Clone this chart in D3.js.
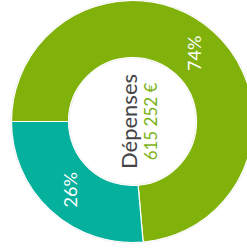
<!DOCTYPE html>
<html>
<head>
<meta charset="utf-8">
<script src="https://cdn.jsdelivr.net/npm/d3@7"></script>
<style>
	html, body { margin: 0; padding: 0; background: #fff; }
	svg { display: block; font-family: Lato, "Open Sans", sans-serif; }
</style>
</head>
<body>
<script>
// Parts of the expenses (share in %)
const categories = ["Part A", "Part B"];
const shares     = [73.6, 26.4];
const labels     = ["74%", "26%"];
const colors     = ["#80b20b", "#05b09c"];
const title      = "Dépenses";
const total      = "615 252 €";

const width  = 247;
const height = 251;
const cx = 132.5, cy = 121.5;
const outerR = 121, innerR = 64;

const svg = d3.select("body").append("svg")
	.attr("width", width)
	.attr("height", height);

const g = svg.append("g")
	.attr("transform", "translate(" + cx + "," + cy + ")");

// chart is turned a quarter left: first slice starts at 9 o'clock
const pie = d3.pie()
	.sort(null)
	.value(d => d.value)
	.startAngle(-Math.PI / 2)
	.endAngle(Math.PI * 1.5);

const arc = d3.arc()
	.innerRadius(innerR)
	.outerRadius(outerR);

const labelArc = d3.arc()
	.innerRadius((innerR + outerR) / 2)
	.outerRadius((innerR + outerR) / 2);

const data = pie(categories.map((c, i) => ({ name: c, value: shares[i], label: labels[i], color: colors[i] })));

// faint outline round the ring
g.append("circle")
	.attr("r", outerR + 0.5)
	.attr("fill", "none")
	.attr("stroke", "#e4e4e4")
	.attr("stroke-width", 1);

g.append("circle")
	.attr("r", innerR - 0.5)
	.attr("fill", "none")
	.attr("stroke", "#ececec")
	.attr("stroke-width", 1);

g.selectAll("path.slice")
	.data(data)
	.join("path")
	.attr("class", "slice")
	.attr("d", arc)
	.attr("fill", d => d.data.color)
	.attr("stroke", "#fff")
	.attr("stroke-width", 1.2);

g.selectAll("text.pct")
	.data(data)
	.join("text")
	.attr("class", "pct")
	.attr("transform", d => {
		const [x, y] = labelArc.centroid(d);
		return "translate(" + x + "," + y + ") rotate(-90)";
	})
	.attr("text-anchor", "middle")
	.attr("dy", "0.36em")
	.attr("fill", "#fff")
	.attr("font-size", 18)
	.text(d => d.data.label);

const center = g.append("g").attr("transform", "rotate(-90)");

center.append("text")
	.attr("text-anchor", "middle")
	.attr("y", 4.5)
	.attr("fill", "#454545")
	.attr("font-size", 22)
	.text(title);

center.append("text")
	.attr("text-anchor", "middle")
	.attr("y", 24.5)
	.attr("fill", "#7ab317")
	.attr("font-size", 17)
	.text(total);
</script>
</body>
</html>
